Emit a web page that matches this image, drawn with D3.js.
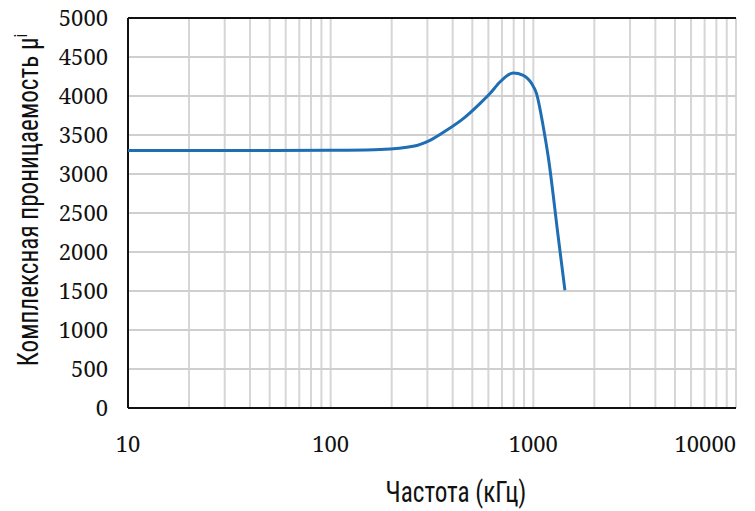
<!DOCTYPE html>
<html>
<head>
<meta charset="utf-8">
<script src="https://cdn.jsdelivr.net/npm/d3@7"></script>
<style>
  body { margin: 0; background: #fff; }
</style>
</head>
<body>
<div id="chart"></div>
<script>
// frequency in kHz, permeability values
const freq = [10, 50, 100, 150, 175, 255, 309, 373, 451, 545, 611, 684, 796, 892, 981, 1037, 1120, 1185, 1327, 1432]
const mu   = [3300, 3302, 3304, 3308, 3313, 3355, 3432, 3560, 3710, 3903, 4031, 4179, 4295, 4265, 4159, 4031, 3603, 3218, 2192, 1509]

const xTicks = [10, 100, 1000, 10000]
const yTicks = d3.range(0, 5001, 500)

const W = 755, H = 511
const margin = {top: 18, right: 19, bottom: 103, left: 128}
const width = W - margin.left - margin.right
const height = H - margin.top - margin.bottom

const svg = d3.select("#chart").append("svg")
    .attr("width", W)
    .attr("height", H)

const g = svg.append("g")
    .attr("transform", "translate(" + margin.left + "," + margin.top + ")")

const x = d3.scaleLog().domain([10, 10000]).range([0, width])
const y = d3.scaleLinear().domain([0, 5000]).range([height, 0])

// minor + major vertical grid (1..9 per decade)
const vGrid = []
for (let d = 10; d < 10000; d *= 10) {
    for (let k = 1; k <= 9; k++) vGrid.push(d * k)
}
vGrid.push(10000)

g.selectAll(".vgrid").data(vGrid).enter().append("line")
    .attr("x1", d => x(d)).attr("x2", d => x(d))
    .attr("y1", 0).attr("y2", height)
    .attr("stroke", "#d6d6d6")
    .attr("stroke-width", 2)

g.selectAll(".hgrid").data(yTicks).enter().append("line")
    .attr("x1", 0).attr("x2", width)
    .attr("y1", d => y(d)).attr("y2", d => y(d))
    .attr("stroke", "#cfcfcf")
    .attr("stroke-width", 2)

// frame: left, bottom and top black
g.append("line").attr("x1", 0).attr("x2", width).attr("y1", 0).attr("y2", 0)
    .attr("stroke", "#111").attr("stroke-width", 2)
g.append("line").attr("x1", 0).attr("x2", width).attr("y1", height).attr("y2", height)
    .attr("stroke", "#111").attr("stroke-width", 2)
g.append("line").attr("x1", 0).attr("x2", 0).attr("y1", 0).attr("y2", height)
    .attr("stroke", "#111").attr("stroke-width", 2)

// curve
const line = d3.line()
    .x((d, i) => x(freq[i]))
    .y(d => y(d))
    .curve(d3.curveMonotoneX)

g.append("path")
    .datum(mu)
    .attr("d", line)
    .attr("fill", "none")
    .attr("stroke", "#1f6eb4")
    .attr("stroke-width", 3)
    .attr("stroke-linejoin", "round")

// tick labels in a serif face (Liberation Serif has no digits here)
const labels = g.append("g")
    .style("font-family", "'Noto Serif', 'DejaVu Serif', serif")
    .style("font-size", "22px")
    .attr("fill", "#111")

labels.selectAll(".ylbl").data(yTicks).enter().append("text")
    .attr("x", -20)
    .attr("y", d => y(d))
    .attr("dy", "0.36em")
    .attr("text-anchor", "end")
    .text(d => String(d))

// last x label kept inside the frame
labels.selectAll(".xlbl").data(xTicks).enter().append("text")
    .attr("x", d => x(d))
    .attr("y", height + 44)
    .attr("text-anchor", (d, i) => i === xTicks.length - 1 ? "end" : "middle")
    .text(d => String(d))

// axis titles (condensed a bit more, like the original)
svg.append("text")
    .style("font-family", "'Roboto Condensed'")
    .style("font-size", "30px")
    .attr("fill", "#111")
    .attr("transform", "translate(456,502) scale(0.84,1)")
    .attr("text-anchor", "middle")
    .text("Частота (кГц)")

const yt = svg.append("text")
    .style("font-family", "'Roboto Condensed'")
    .style("font-size", "30px")
    .attr("fill", "#111")
    .attr("transform", "translate(38,200) rotate(-90) scale(0.84,1)")
    .attr("text-anchor", "middle")
yt.append("tspan").text("Комплексная проницаемость μ")
yt.append("tspan").attr("baseline-shift", "super").style("font-size", "19px").text("i")
</script>
</body>
</html>
